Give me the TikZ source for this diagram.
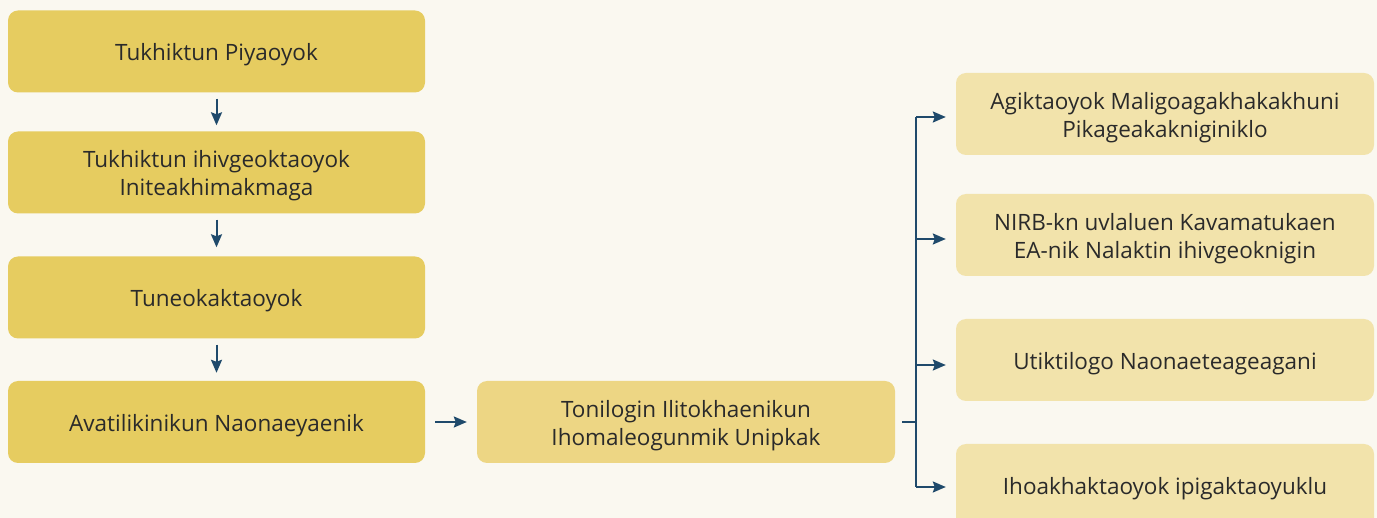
\documentclass[tikz,border=0pt]{standalone}
\usepackage{fontspec}
\setmainfont{Open Sans}
\usetikzlibrary{arrows.meta}
\definecolor{bg}{HTML}{FAF8F0}
\definecolor{gold}{HTML}{E6CC60}
\definecolor{goldmid}{HTML}{EDD684}
\definecolor{goldlight}{HTML}{F2E3AB}
\definecolor{navy}{HTML}{1F4A6B}
\definecolor{ink}{HTML}{2A2A2A}
\tikzset{
  box/.style={rounded corners=10pt, minimum width=417pt, minimum height=82pt, inner sep=0pt},
  leftbox/.style={box, fill=gold},
  midbox/.style={box, fill=goldmid, minimum width=418pt},
  rightbox/.style={box, fill=goldlight, minimum width=418pt},
  txt/.style={align=center, text=ink, inner sep=0pt, font=\fontsize{22.5}{28}\selectfont, yshift=-3.5pt},
  conn/.style={draw=navy, line width=2pt, -{Stealth[length=13pt,width=11pt,inset=2pt]}},
  plain/.style={draw=navy, line width=2pt},
}
\begin{document}
\begin{tikzpicture}[x=1pt,y=-1pt]
\fill[bg] (0,0) rectangle (1377,518);
\useasboundingbox (0,0) rectangle (1377,518);
\clip (0,0) rectangle (1377,518);
\node[leftbox] (b1) at (216.5,51.5) {};
\node[txt] (b1t) at (b1) {Tukhiktun Piyaoyok};
\node[leftbox] (b2) at (216.5,172.5) {};
\node[txt] (b2t) at (b2) {Tukhiktun ihivgeoktaoyok\\Initeakhimakmaga};
\node[leftbox] (b3) at (216.5,297.5) {};
\node[txt] (b3t) at (b3) {Tuneokaktaoyok};
\node[leftbox] (b4) at (216.5,422) {};
\node[txt] (b4t) at (b4) {Avatilikinikun Naonaeyaenik};
\node[midbox] (m) at (686,422) {};
\node[txt] (mt) at (m) {Tonilogin Ilitokhaenikun\\Ihomaleogunmik Unipkak};
\node[rightbox] (r1) at (1165,114) {};
\node[txt] (r1t) at (r1) {Agiktaoyok Maligoagakhakakhuni\\Pikageakakniginiklo};
\node[rightbox] (r2) at (1165,235) {};
\node[txt] (r2t) at (r2) {NIRB-kn uvlaluen Kavamatukaen\\EA-nik Nalaktin ihivgeoknigin};
\node[rightbox] (r3) at (1165,360) {};
\node[txt] (r3t) at (r3) {Utiktilogo Naonaeteageagani};
\node[rightbox, minimum height=90pt] (r4) at (1165,489) {};
\node[txt] (r4t) at (1165,485) {Ihoakhaktaoyok ipigaktaoyuklu};
\draw[conn] ([yshift=-6pt]b1.south) -- ([yshift=6pt]b2.north);
\draw[conn] ([yshift=-6pt]b2.south) -- ([yshift=9pt]b3.north);
\draw[conn] ([yshift=-6pt]b3.south) -- ([yshift=8pt]b4.north);
\draw[conn] ([xshift=10pt]b4.east |- m.west) -- ([xshift=-10pt]m.west);
\coordinate (s) at ([xshift=7pt]m.east);
\coordinate (t) at (916,422);
\draw[plain] (s) -- (t);
\draw[plain] (916,117) -- (916,487);
\draw[conn] (916,117) -- ([xshift=-10pt]r1.west |- 0,117);
\draw[conn] (916,239) -- ([xshift=-10pt]r2.west |- 0,239);
\draw[conn] (916,365) -- ([xshift=-10pt]r3.west |- 0,365);
\draw[conn] (916,487) -- ([xshift=-10pt]r4.west |- 0,487);
\end{tikzpicture}
\end{document}
